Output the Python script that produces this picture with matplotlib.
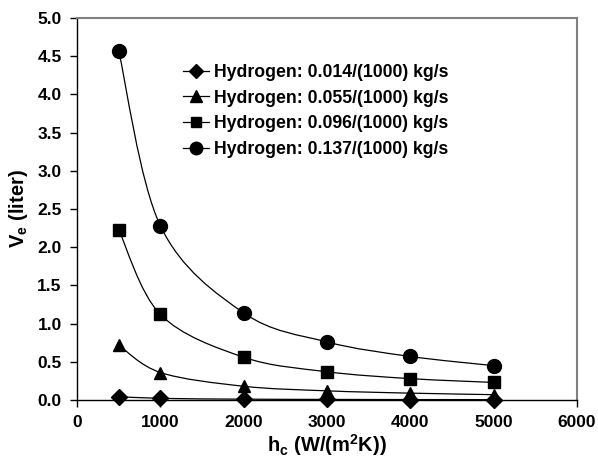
import matplotlib
matplotlib.use("Agg")
import matplotlib.pyplot as plt
from matplotlib.path import Path
from matplotlib.patches import PathPatch
from matplotlib.lines import Line2D
import numpy as np

plt.rcParams['font.family'] = ['Liberation Sans', 'DejaVu Sans']
plt.rcParams['font.weight'] = 'bold'
plt.rcParams['mathtext.default'] = 'regular'

# Heat transfer coefficient h_c (W/(m^2 K))
h_c = [500, 1000, 2000, 3000, 4000, 5000]

# Volume V_e (liter) for each hydrogen mass flow rate
v_014 = [0.045, 0.022, 0.011, 0.008, 0.006, 0.005]
v_055 = [0.72, 0.36, 0.18, 0.12, 0.09, 0.07]
v_096 = [2.23, 1.12, 0.56, 0.37, 0.28, 0.23]
v_137 = [4.57, 2.28, 1.14, 0.76, 0.57, 0.45]

labels = ["Hydrogen: 0.014/(1000) kg/s",
          "Hydrogen: 0.055/(1000) kg/s",
          "Hydrogen: 0.096/(1000) kg/s",
          "Hydrogen: 0.137/(1000) kg/s"]
series = [v_014, v_055, v_096, v_137]
markers = ['D', '^', 's', 'o']
msizes = [8, 9, 8.5, 10]

x_ticks = [0, 1000, 2000, 3000, 4000, 5000, 6000]
y_ticks = [0.0, 0.5, 1.0, 1.5, 2.0, 2.5, 3.0, 3.5, 4.0, 4.5, 5.0]


def smooth_path(x, y):
    """Cubic Bezier path through the points (Catmull-Rom style tangents)."""
    pts = np.column_stack([x, y]).astype(float)
    n = len(pts)
    verts = [pts[0]]
    codes = [Path.MOVETO]
    for i in range(n - 1):
        p0 = pts[i - 1] if i > 0 else pts[i]
        p1 = pts[i]
        p2 = pts[i + 1]
        p3 = pts[i + 2] if i + 2 < n else pts[i + 1]
        c1 = p1 + (p2 - p0) / 6.0
        c2 = p2 - (p3 - p1) / 6.0
        verts += [c1, c2, p2]
        codes += [Path.CURVE4] * 3
    return Path(verts, codes)


fig = plt.figure(figsize=(5.98, 4.66), dpi=100)
ax = fig.add_axes([0.1288, 0.1416, 0.8361, 0.8198])

handles = []
for vals, m, ms, lab in zip(series, markers, msizes, labels):
    ax.add_patch(PathPatch(smooth_path(h_c, vals), facecolor='none',
                           edgecolor='black', lw=0.9, zorder=2))
    ax.plot(h_c, vals, linestyle='none', marker=m, markersize=ms,
            color='black', zorder=3, clip_on=False)
    handles.append(Line2D([], [], color='black', lw=0.9, marker=m,
                          markersize=ms - 1))

ax.set_xlim(0, 6000)
ax.set_ylim(0, 5.0)
ax.set_xticks(x_ticks)
ax.set_yticks(y_ticks)
ax.set_xticklabels([str(v) for v in x_ticks], fontsize=12.5, fontweight='bold')
ax.set_yticklabels([f"{v:.1f}" for v in y_ticks], fontsize=12.5, fontweight='bold')
ax.tick_params(axis='both', direction='out', length=5, width=1, pad=6)

for side in ['left', 'bottom']:
    ax.spines[side].set_color('black')
    ax.spines[side].set_linewidth(1)
for side in ['top', 'right']:
    ax.spines[side].set_color('#808080')
    ax.spines[side].set_linewidth(1.5)

ax.set_xlabel("h$_c$ (W/(m$^2$K))", fontsize=14.5, fontweight='bold', labelpad=1)
ax.set_ylabel("V$_e$ (liter)", fontsize=14.5, fontweight='bold', labelpad=5)

leg = ax.legend(handles, labels, loc='upper left',
                bbox_to_anchor=(0.212, 0.88), frameon=False,
                prop={'size': 12.7, 'weight': 'bold'},
                handlelength=1.5, handletextpad=0.25, labelspacing=0.5,
                borderaxespad=0, borderpad=0)

fig.savefig("out.png", dpi=100)
